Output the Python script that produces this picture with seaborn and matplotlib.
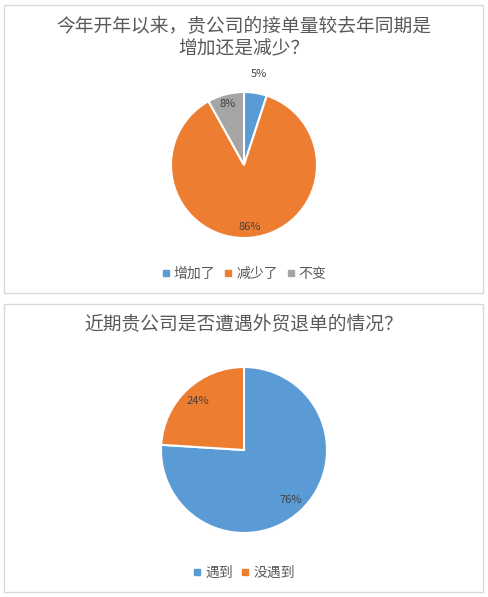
import matplotlib
matplotlib.use("Agg")
import matplotlib.pyplot as plt
import seaborn as sns
import numpy as np
from matplotlib.patches import Rectangle
from matplotlib.lines import Line2D

# data
q1_title = "今年开年以来，贵公司的接单量较去年同期是\n增加还是减少？"
q1_labels = ["增加了", "减少了", "不变"]
q1_values = [5, 86, 8]

q2_title = "近期贵公司是否遭遇外贸退单的情况？"
q2_labels = ["遇到", "没遇到"]
q2_values = [76, 24]

sns.set_theme(style="white")
plt.rcParams['font.family'] = ['Noto Sans CJK SC', 'DejaVu Sans']

colors = ["#5B9BD5", "#ED7D31", "#A5A5A5"]
text_grey = "#595959"

W, H = 488, 597
fig = plt.figure(figsize=(W / 100, H / 100), dpi=100)
fig.patch.set_facecolor("white")


def px_axes(cx, cy, r):
    # square axes in pixel coords (origin top-left)
    return fig.add_axes([(cx - r) / W, (H - cy - r) / H, 2 * r / W, 2 * r / H])


def panel(top, bottom):
    fig.patches.append(Rectangle((4 / W, (H - bottom) / H), 479 / W, (bottom - top) / H,
                                 transform=fig.transFigure, fill=False,
                                 edgecolor="#D9D9D9", linewidth=1.0))


def draw_pie(ax, values, labels, label_dist):
    wedges, _ = ax.pie(values, colors=colors[:len(values)], startangle=90,
                       counterclock=False,
                       wedgeprops=dict(edgecolor="white", linewidth=1.5))
    ax.set_xlim(-1, 1)
    ax.set_ylim(-1, 1)
    ax.set_aspect("equal")
    for w, v, d in zip(wedges, values, label_dist):
        mid = np.deg2rad((w.theta1 + w.theta2) / 2)
        ax.text(d * np.cos(mid), d * np.sin(mid), f"{v}%", ha="center", va="center",
                fontsize=8, color="#404040", clip_on=False)
    return wedges


def legend(labels, n, y):
    handles = [Line2D([], [], marker="s", linestyle="none", markersize=5,
                      markerfacecolor=colors[i], markeredgecolor=colors[i])
               for i in range(n)]
    leg = fig.legend(handles, labels, loc="center", bbox_to_anchor=(0.5, (H - y) / H),
                     ncol=n, frameon=False, fontsize=10, handlelength=0.6,
                     handletextpad=0.3, columnspacing=0.6)
    for t in leg.get_texts():
        t.set_color(text_grey)


# top panel
panel(5, 293)
fig.text(0.5, (H - 38) / H, q1_title, ha="center", va="center", fontsize=13.5,
         color=text_grey, linespacing=1.1)
ax1 = px_axes(244, 165, 73)
draw_pie(ax1, q1_values, q1_labels, [1.26, 0.85, 0.87])
legend(q1_labels, 3, 274)

# bottom panel
panel(304, 592)
fig.text(0.5, (H - 325) / H, q2_title, ha="center", va="center", fontsize=13.5,
         color=text_grey)
ax2 = px_axes(244, 450, 83)
draw_pie(ax2, q2_values, q2_labels, [0.82, 0.81])
legend(q2_labels, 2, 573)

fig.savefig("out.png", dpi=100, facecolor="white")
